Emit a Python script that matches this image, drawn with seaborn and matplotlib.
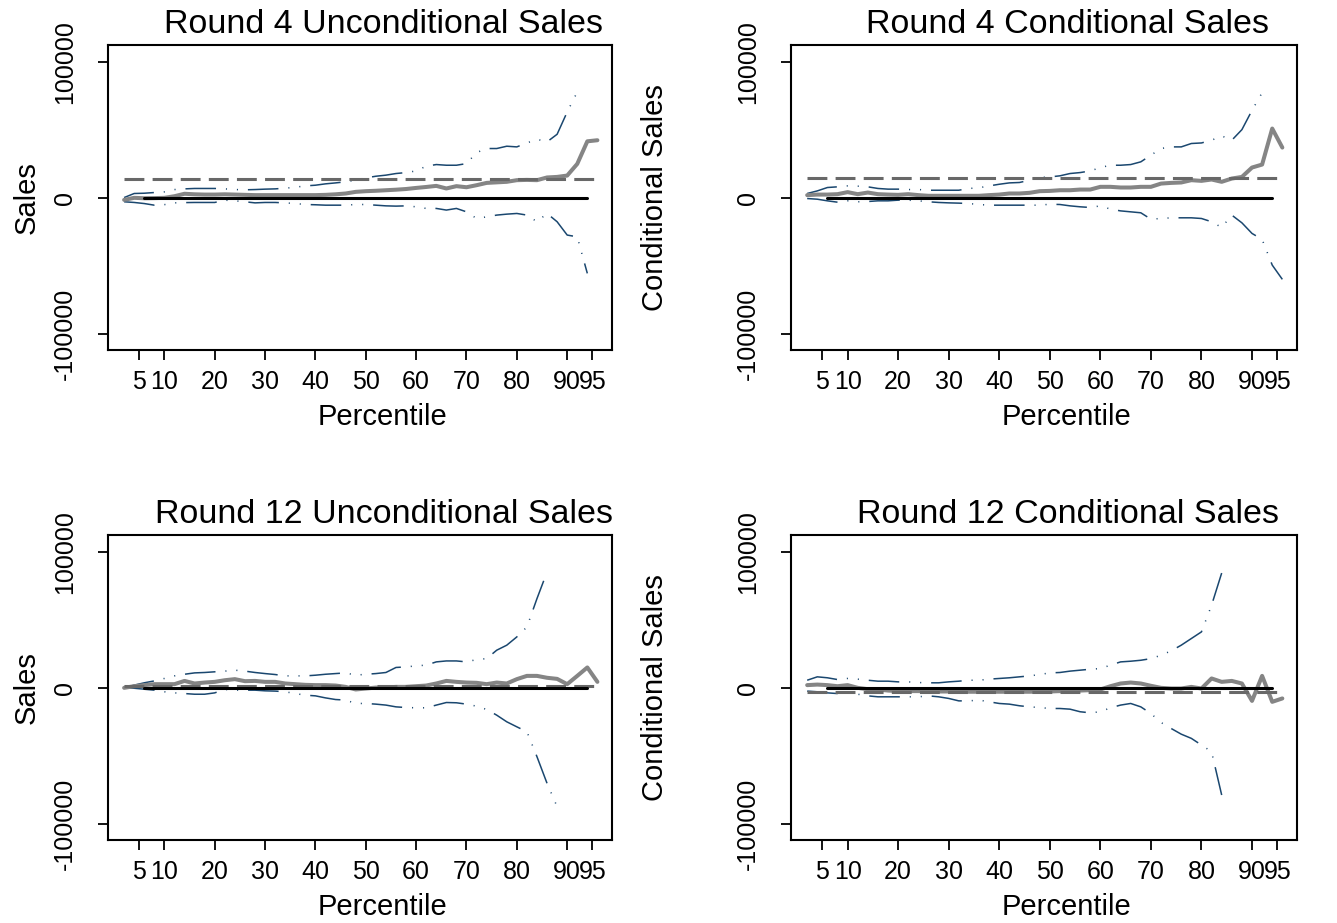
import numpy as np
import matplotlib
matplotlib.use("Agg")
import matplotlib.pyplot as plt
import seaborn as sns

nan = np.nan

# -- percentiles (x) --
pct = np.arange(2, 97, 2)

# -- Round 4 Unconditional --
r4u_coef = [-1500, 0, -300, -200, 0, 1200, 3000, 2600, 2400, 2400, 2600, 2400,
            2200, 2000, 2000, 2000, 2000, 2000, 2000, 2000, 2200, 2600, 3200, 4400,
            4900, 5200, 5600, 6000, 6500, 7300, 8000, 8800, 6900, 8600, 7800, 9300,
            11000, 11400, 11800, 13000, 13200, 13000, 15000, 15400, 16400, 25000, 41600, 42400]
r4u_hi = [200, 3200, 3400, 3900, 4400, 6100, 6600, 6900, 6900, 6900, 6600, 6100,
          5900, 6100, 6400, 6600, 7100, 7800, 8800, 9300, 10300, 11000, 11800, 13000,
          14700, 15900, 16700, 17900, 18600, 19800, 23300, 24500, 24000, 24000, 25200, 33300,
          36300, 36300, 38000, 37500, 40400, 43100, 41200, 46800, 63200, 77900, nan, nan]
r4u_lo = [-2900, -3400, -4200, -5400, -5000, -3700, -3500, -3400, -3400, -3400, -1700, -2200,
          -2900, -3700, -3400, -3400, -3700, -4200, -4900, -5100, -5400, -5400, -5400, -4900,
          -4900, -5400, -5900, -6100, -5900, -6600, -7800, -7800, -9000, -7800, -10300, -15200,
          -14000, -12700, -12000, -11500, -12700, -17600, -11500, -17600, -27400, -28700, -55600, nan]
r4u_ols = 13700

# -- Round 4 Conditional --
r4c_coef = [2000, 2400, 2400, 2700, 4200, 2700, 3900, 2700, 2400, 2200, 2700, 2000,
            1500, 1500, 1500, 1500, 1500, 1500, 2000, 2400, 3200, 3200, 3700, 4900,
            5100, 5600, 5600, 6100, 6100, 8100, 8100, 7600, 7600, 8100, 8100, 10500,
            11000, 11300, 13000, 12500, 13500, 11800, 14200, 15400, 22300, 24500, 51000, 37000]
r4c_hi = [3200, 5100, 7600, 8100, 8800, 8600, 8100, 6900, 6400, 6400, 6100, 6100,
          5600, 5600, 5600, 5600, 6900, 7400, 8800, 10000, 11000, 11300, 13000, 15000,
          15400, 16200, 17900, 18600, 19800, 22300, 24000, 24000, 24500, 26500, 31400, 36300,
          37500, 37500, 40000, 40400, 42400, 45600, 42400, 50200, 64400, 77400, nan, nan]
r4c_lo = [-500, -1000, -2200, -3200, -2200, -2900, -2700, -2200, -2200, -1700, -1700, -2200,
          -2900, -3400, -3700, -3900, -4200, -4900, -5400, -5400, -5400, -5400, -5400, -5400,
          -4700, -4900, -5900, -6600, -7100, -5900, -8300, -9600, -10300, -11000, -15700, -15200,
          -14700, -14700, -14700, -15200, -17600, -21800, -12700, -18400, -26200, -30600, -49500, -60000]
r4c_ols = 14900

# -- Round 12 Unconditional --
r12u_coef = [0, 1200, 2000, 2700, 2700, 2700, 5100, 3200, 3900, 4400, 5600, 6400,
             4900, 5100, 4400, 4400, 3200, 2700, 2200, 2000, 2000, 1700, 700, -1200,
             -500, 200, 200, 700, 700, 1200, 1700, 3200, 5100, 4400, 3900, 3700,
             2700, 3900, 3200, 6400, 8800, 8800, 7400, 6600, 2700, 8800, 15000, 4400]
r12u_hi = [0, 2000, 3700, 5100, 6900, 8800, 10000, 11000, 11300, 11800, 12300, 13000,
           12300, 11300, 10500, 9800, 8800, 8800, 8800, 9300, 10000, 10500, 11000, 9300,
           10000, 10500, 11300, 15000, 15400, 16200, 16700, 19100, 19800, 19800, 19100, 20800,
           21500, 27700, 31400, 37500, 44800, 65700, 85300, nan, nan, nan, nan, nan]
r12u_lo = [0, -300, -1000, -1700, -2900, -3700, -4200, -4700, -4700, -3700, -1200, -1700,
           -1700, -1700, -2200, -2400, -2900, -4200, -5400, -5900, -7400, -8600, -9000, -11500,
           -11500, -12000, -12700, -14000, -14500, -14700, -14700, -12700, -10800, -11000, -12000, -13500,
           -15900, -20100, -25000, -28700, -32300, -50700, -70300, -87500, nan, nan, nan, nan]
r12u_ols = 1000

# -- Round 12 Conditional --
r12c_coef = [2000, 2400, 2000, 1200, 2000, 0, -1000, -1200, -2000, -2400, -2400, -2400,
             -2400, -2700, -2700, -2700, -2900, -2900, -2900, -2900, -2900, -2900, -2900, -2700,
             -2700, -2400, -2200, -2000, -1700, -1200, 1200, 3200, 3900, 3200, 1500, 0,
             -500, -500, 700, -500, 6900, 4400, 5100, 3200, -9600, 8800, -10300, -7800]
r12c_hi = [5600, 8100, 7400, 6100, 6900, 6400, 5600, 4900, 4900, 4400, 4400, 3900,
           3700, 3700, 4400, 4900, 5600, 5600, 6400, 6900, 7400, 8100, 8800, 9800,
           11000, 11300, 12300, 13000, 13700, 14200, 16700, 19100, 19600, 20300, 21500, 24000,
           27200, 31400, 36300, 41200, 60800, 84500, nan, nan, nan, nan, nan, nan]
r12c_lo = [-2400, -2900, -3700, -4200, -3700, -4700, -5900, -6600, -6600, -6600, -6600, -6600,
           -5900, -6600, -7800, -9600, -9600, -9000, -10300, -11500, -12000, -13200, -14000, -14500,
           -15200, -15200, -15700, -17600, -18400, -17600, -14700, -12700, -11500, -14000, -18900, -25500,
           -29900, -34100, -37200, -42100, -47000, -78900, nan, nan, nan, nan, nan, nan]
r12c_ols = -2700

titles = ["Round 4 Unconditional Sales", "Round 4 Conditional Sales",
          "Round 12 Unconditional Sales", "Round 12 Conditional Sales"]
ylabels = ["Sales", "Conditional Sales", "Sales", "Conditional Sales"]
xticks = [5, 10, 20, 30, 40, 50, 60, 70, 80, 90, 95]
yticks = [-100000, 0, 100000]

panels = [
    (r4u_coef, r4u_hi, r4u_lo, r4u_ols),
    (r4c_coef, r4c_hi, r4c_lo, r4c_ols),
    (r12u_coef, r12u_hi, r12u_lo, r12u_ols),
    (r12c_coef, r12c_hi, r12c_lo, r12c_ols),
]

# -- Style --
sns.set_style("ticks")
plt.rcParams['font.family'] = ['Liberation Sans', 'DejaVu Sans']
plt.rcParams['text.color'] = 'black'
plt.rcParams['axes.labelcolor'] = 'black'
plt.rcParams['xtick.color'] = 'black'
plt.rcParams['ytick.color'] = 'black'

blue = '#1a476f'
ci_style = (0, (20, 6.5, 0.7, 6.5, 0.7, 6.5))

fig = plt.figure(figsize=(13.37, 9.23), dpi=100)
W, H = 1337, 923
boxes = [(108, 45, 612, 350), (791, 45, 1297, 350),
         (108, 535, 612, 840), (791, 535, 1297, 840)]

for i, (coef, hi, lo, ols) in enumerate(panels):
    l, t, r, b = boxes[i]
    ax = fig.add_axes([l / W, 1 - b / H, (r - l) / W, (b - t) / H])

    sns.lineplot(x=pct, y=hi, ax=ax, color=blue, linewidth=1.1, linestyle=ci_style)
    sns.lineplot(x=pct, y=lo, ax=ax, color=blue, linewidth=1.1, linestyle=ci_style)
    sns.lineplot(x=pct, y=coef, ax=ax, color='#858585', linewidth=2.9)
    ax.plot([pct[0], pct[-1]], [ols, ols], color='#686868', linewidth=2.2,
            linestyle=(0, (6.5, 2.7)))
    ax.plot([6, 94], [0, 0], color='black', linewidth=2.2)

    ax.set_xlim(-1.2, 98.9)
    ax.set_ylim(-112000, 112500)
    ax.set_xticks(xticks)
    ax.set_xticklabels([str(v) for v in xticks])
    ax.set_yticks(yticks)
    ax.set_yticklabels([str(v) for v in yticks], rotation=90, va='center')
    ax.tick_params(axis='both', direction='out', length=7.5, width=1.3,
                   labelsize=18, color='black', labelcolor='black')
    ax.tick_params(axis='x', pad=7)
    ax.tick_params(axis='y', pad=15)
    for sp in ax.spines.values():
        sp.set_linewidth(1.5)
        sp.set_color('black')

    ax.set_title(titles[i], fontsize=24.5, x=0.547, pad=8.6, color='black')
    ax.set_xlabel("Percentile", fontsize=21, va='top')
    ax.xaxis.set_label_coords(0.544, -0.175)
    ax.set_ylabel(ylabels[i], fontsize=21, va='center')
    if i % 2 == 0:
        ax.yaxis.set_label_coords(-0.161, 0.5)
    else:
        ax.yaxis.set_label_coords(-0.269, 0.5)

fig.savefig("out.png", dpi=100)
